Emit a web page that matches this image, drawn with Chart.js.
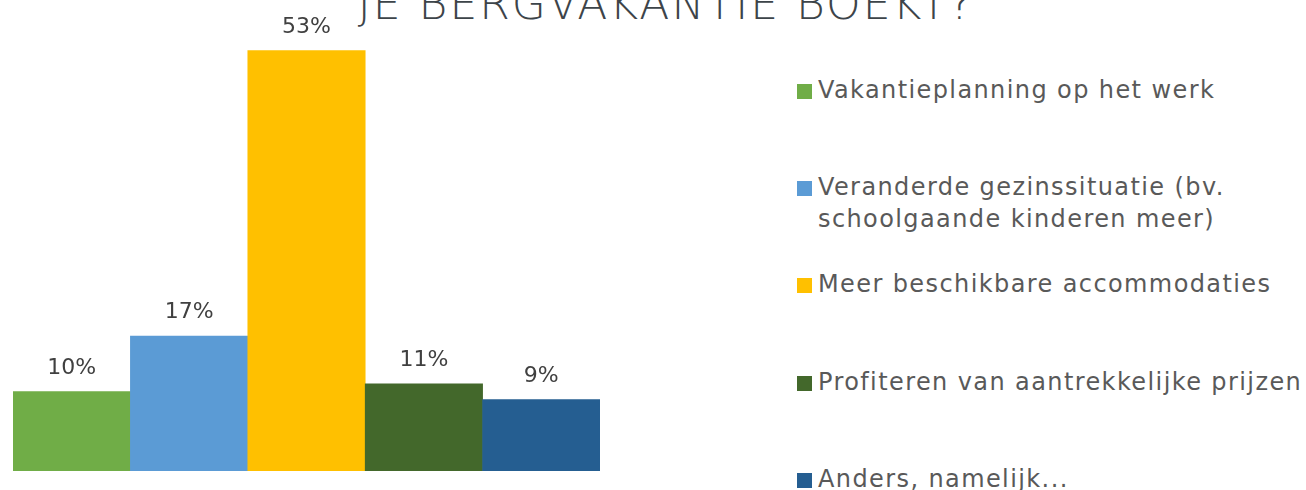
<!DOCTYPE html>
<html>
<head>
<meta charset="utf-8">
<script src="https://cdn.jsdelivr.net/npm/chart.js@4"></script>
<style>
    html, body { margin: 0; padding: 0; background: #fff; }
    body { width: 1306px; height: 490px; position: relative; overflow: hidden; font-family: "DejaVu Sans", sans-serif; }
    #wrap { position: absolute; left: 0; top: 0; width: 620px; height: 490px; }
    #title { position: absolute; left: 0; width: 1332px; top: -22px; text-align: center; font-size: 44px; font-weight: 300;
             color: #3d4449; letter-spacing: 2px; white-space: nowrap; font-family: "DejaVu Sans", sans-serif; }
    #legend { position: absolute; left: 797px; top: 0; margin: 0; padding: 0; list-style: none; }
    #legend li { position: absolute; left: 0; width: 520px; font-size: 24px; line-height: 32px; color: #595959;
                 padding-left: 21px; letter-spacing: 1.4px; white-space: nowrap; }
    #legend li span { position: absolute; left: 0; top: 10px; width: 15px; height: 15px; }
</style>
</head>
<body>
<div id="title">JE BERGVAKANTIE BOEKT?</div>
<div id="wrap"><canvas id="chart" width="620" height="490"></canvas></div>
<ul id="legend"></ul>
<script>
const categories = [
    "Vakantieplanning op het werk",
    ["Veranderde gezinssituatie (bv.", "schoolgaande kinderen meer)"],
    "Meer beschikbare accommodaties",
    "Profiteren van aantrekkelijke prijzen",
    "Anders, namelijk..."
];
const percentages = [10, 17, 53, 11, 9];
const barColors = ["#70ad47", "#5b9bd5", "#ffc000", "#43682b", "#255e91"];

document.addEventListener("DOMContentLoaded", function() {

    const valueLabels = {
        id: "valueLabels",
        afterDatasetsDraw(chart) {
            const ctx = chart.ctx;
            const meta = chart.getDatasetMeta(0);
            ctx.save();
            ctx.font = "22px 'DejaVu Sans', sans-serif";
            ctx.fillStyle = "#404040";
            ctx.textAlign = "center";
            ctx.textBaseline = "alphabetic";
            meta.data.forEach((bar, i) => {
                ctx.fillText(percentages[i] + "%", bar.x, bar.y - 18);
            });
            ctx.restore();
        }
    };

    const ctx = document.getElementById("chart").getContext("2d");
    new Chart(ctx, {
        type: "bar",
        data: {
            labels: categories.map(c => Array.isArray(c) ? c.join(" ") : c),
            datasets: [{
                data: percentages,
                backgroundColor: barColors,
                borderWidth: 0,
                barPercentage: 1,
                categoryPercentage: 1
            }]
        },
        options: {
            responsive: false,
            animation: false,
            maintainAspectRatio: false,
            layout: { padding: { left: 13, right: 20, top: 11, bottom: 19 } },
            plugins: {
                legend: { display: false },
                tooltip: { enabled: false }
            },
            scales: {
                x: { display: false },
                y: { display: false, min: 0, max: 58 }
            }
        },
        plugins: [valueLabels]
    });

    // legend next to the chart
    const legend = document.getElementById("legend");
    const tops = [74, 171, 268, 366, 463];
    categories.forEach((cat, i) => {
        const li = document.createElement("li");
        li.style.top = tops[i] + "px";
        const box = document.createElement("span");
        box.style.background = barColors[i];
        li.appendChild(box);
        const lines = Array.isArray(cat) ? cat : [cat];
        lines.forEach((line, j) => {
            if (j > 0) li.appendChild(document.createElement("br"));
            li.appendChild(document.createTextNode(line));
        });
        legend.appendChild(li);
    });
});
</script>
</body>
</html>
